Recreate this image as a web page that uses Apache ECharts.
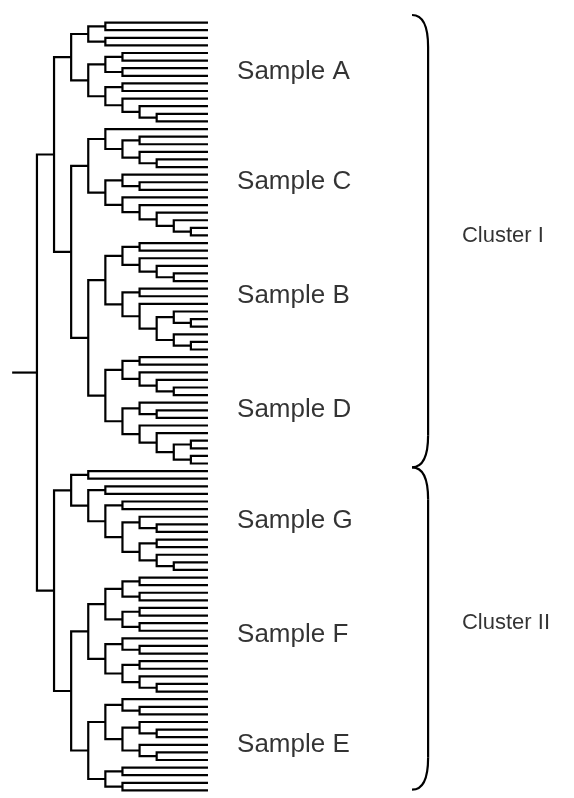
<!DOCTYPE html>
<html>
<head>
<meta charset="utf-8">
<script src="https://cdn.jsdelivr.net/npm/echarts@6/dist/echarts.min.js"></script>
<style>
html, body { margin: 0; padding: 0; background: #fff; }
#main { width: 574px; height: 798px; }
</style>
</head>
<body>
<div id="main"></div>
<script>
// tree node: [merge height, upper child, lower child], 0 = one leaf
var sampleA = [8, [7, [6, 0, 0], [6, 0, 0]],
                  [7, [6, [5, 0, 0], [5, 0, 0]], [6, [5, 0, 0], [5, 0, [4, 0, [3, 0, 0]]]]]];
var sampleC = [7, [6, 0, [5, [4, 0, 0], [4, 0, [3, 0, 0]]]],
                  [6, [5, 0, [4, 0, 0]], [5, 0, [4, 0, [3, 0, [2, 0, [1, 0, 0]]]]]]];
var sampleB = [6, [5, [4, 0, 0], [4, 0, [3, 0, [2, 0, 0]]]],
                  [5, [4, 0, 0], [4, 0, [3, [2, 0, [1, 0, 0]], [2, 0, [1, 0, 0]]]]]];
var sampleD = [6, [5, [4, 0, 0], [4, 0, [3, 0, [2, 0, 0]]]],
                  [5, [4, 0, [3, 0, 0]], [4, 0, [3, 0, [2, [1, 0, 0], [1, 0, 0]]]]]];
var sampleG = [8, [7, 0, 0],
                  [7, [6, 0, 0], [6, [5, 0, 0], [5, [4, 0, [3, 0, 0]], [4, [3, 0, 0], [3, 0, [2, 0, 0]]]]]]];
var sampleF = [7, [6, [5, [4, 0, 0], [4, 0, 0]], [5, [4, 0, 0], [4, 0, 0]]],
                  [6, [5, 0, [4, 0, 0]], [5, [4, 0, 0], [4, 0, [3, 0, 0]]]]];
var sampleE = [7, [6, [5, 0, [4, 0, 0]], [5, [4, 0, [3, 0, 0]], [4, 0, [3, 0, 0]]]],
                  [6, [5, 0, 0], [5, 0, 0]]];

var clusterI = [9, sampleA, [8, sampleC, [7, sampleB, sampleD]]];
var clusterII = [9, sampleG, [8, sampleF, sampleE]];
var root = [10, clusterI, clusterII];
var rootStub = 11.45;

var sampleNames = ['Sample A', 'Sample C', 'Sample B', 'Sample D', 'Sample G', 'Sample F', 'Sample E'];
var sampleNodes = [sampleA, sampleC, sampleB, sampleD, sampleG, sampleF, sampleE];
var clusterNames = ['Cluster I', 'Cluster II'];
var clusterNodes = [clusterI, clusterII];

// walk the tree, leaves get index 0..n-1 top to bottom
var segments = [];
var ranges = new Map();
var leafCount = 0;
function layout(node) {
    if (node === 0) {
        return { y: leafCount++, h: 0 };
    }
    var first = leafCount;
    var a = layout(node[1]);
    var b = layout(node[2]);
    segments.push({ coords: [[a.h, a.y], [node[0], a.y], [node[0], b.y], [b.h, b.y]] });
    ranges.set(node, [first, leafCount - 1]);
    return { y: (a.y + b.y) / 2, h: node[0] };
}
var rootPos = layout(root);
segments.push({ coords: [[rootPos.h, rootPos.y], [rootStub, rootPos.y]] });

var sampleLabelData = sampleNodes.map(function (n, i) {
    var r = ranges.get(n);
    return [-1.7, (r[0] + r[1]) / 2, sampleNames[i]];
});
var clusterLabelData = clusterNodes.map(function (n, i) {
    var r = ranges.get(n);
    return [-14.85, (r[0] + r[1]) / 2 - 1, clusterNames[i]];
});
var rI = ranges.get(clusterI), rII = ranges.get(clusterII);
var split = (rI[1] + rII[0]) / 2;
var braceData = [[rI[0] - 1, split], [split, rII[1] - 0.1]];

var chart = echarts.init(document.getElementById('main'));
chart.setOption({
    animation: false,
    backgroundColor: '#fff',
    grid: { left: 0, right: 0, top: 15, bottom: 0 },
    xAxis: { type: 'value', inverse: true, min: -21.4, max: 12.16, show: false },
    yAxis: { type: 'value', inverse: true, min: -1, max: 102, show: false },
    series: [
        {
            type: 'lines',
            coordinateSystem: 'cartesian2d',
            polyline: true,
            silent: true,
            lineStyle: { color: '#000', width: 2.2, opacity: 1 },
            data: segments
        },
        {
            type: 'scatter',
            symbolSize: 0,
            silent: true,
            label: {
                show: true, position: 'right', distance: 0,
                formatter: function (p) { return p.data[2]; },
                color: '#000', fontSize: 26, fontFamily: 'Liberation Sans'
            },
            data: sampleLabelData
        },
        {
            type: 'scatter',
            symbolSize: 0,
            silent: true,
            label: {
                show: true, position: 'right', distance: 0,
                formatter: function (p) { return p.data[2]; },
                color: '#000', fontSize: 22, fontFamily: 'Liberation Sans'
            },
            data: clusterLabelData
        },
        {
            type: 'custom',
            silent: true,
            data: braceData,
            renderItem: function (params, api) {
                var a = api.coord([-11.93, api.value(0)]);
                var b = api.coord([-11.93, api.value(1)]);
                var vx = api.coord([-12.87, 0])[0];
                var curl = 32;
                var style = { stroke: '#000', lineWidth: 2.2, fill: null };
                return {
                    type: 'group',
                    children: [
                        { type: 'bezierCurve', shape: { x1: a[0], y1: a[1], cpx1: vx, cpy1: a[1], x2: vx, y2: a[1] + curl }, style: style },
                        { type: 'line', shape: { x1: vx, y1: a[1] + curl, x2: vx, y2: b[1] - curl }, style: style },
                        { type: 'bezierCurve', shape: { x1: vx, y1: b[1] - curl, cpx1: vx, cpy1: b[1], x2: b[0], y2: b[1] }, style: style }
                    ]
                };
            }
        }
    ]
});
</script>
</body>
</html>
